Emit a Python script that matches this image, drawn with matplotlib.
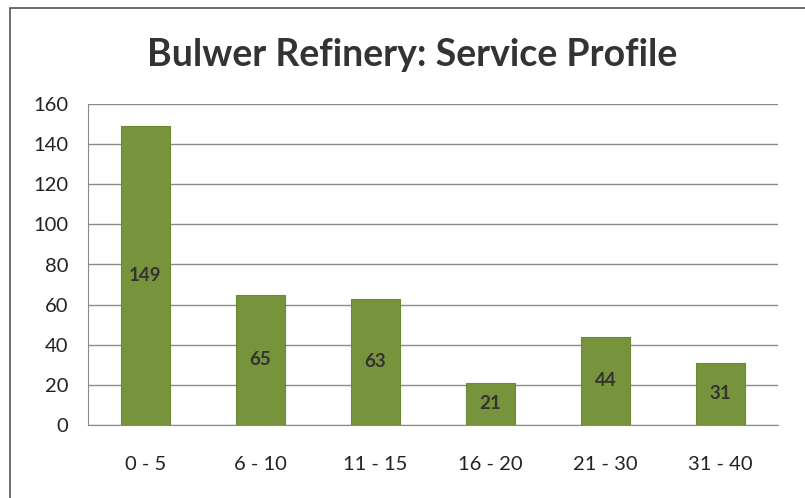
import matplotlib.pyplot as plt
from matplotlib.patches import Rectangle

categories = ['0 - 5', '6 - 10', '11 - 15', '16 - 20', '21 - 30', '31 - 40']
values = [149, 65, 63, 21, 44, 31]

fig = plt.figure(figsize=(8.05, 4.98), dpi=100)
# chart border (right/bottom edges fall outside the scan)
fig.patches.append(Rectangle((10 / 805, -0.05), 1.0, 1 - 8 / 498 + 0.05,
                             transform=fig.transFigure, fill=False,
                             edgecolor='#555555', linewidth=1.2))

ax = fig.add_axes([88 / 805, 73 / 498, 690 / 805, 321 / 498])
x = range(len(categories))
bars = ax.bar(x, values, width=0.42, color='#77933c', edgecolor='#6a8a34', linewidth=0.8, zorder=3)

for b, v in zip(bars, values):
    ax.text(b.get_x() + b.get_width() / 2, v / 2, str(v), ha='center', va='center',
            fontsize=13.5, fontweight='bold', color='#333333', family='Lato', zorder=4)

ax.set_xlim(-0.5, len(categories) - 0.5)
ax.set_ylim(0, 160)
ax.set_yticks(range(0, 161, 20))
ax.set_xticks(list(x))
ax.set_xticklabels(categories)
ax.yaxis.grid(True, color='#8a8a8a', linewidth=1.0, zorder=0)
ax.tick_params(axis='both', length=0, labelsize=14.5, colors='#222222')
for lbl in ax.get_xticklabels() + ax.get_yticklabels():
    lbl.set_family('Lato')
ax.tick_params(axis='y', pad=14)
ax.tick_params(axis='x', pad=22)
for s in ['top', 'right']:
    ax.spines[s].set_visible(False)
ax.spines['left'].set_color('#8a8a8a')
ax.spines['bottom'].set_color('#8a8a8a')

fig.text(412 / 805, 1 - 55 / 498, 'Bulwer Refinery: Service Profile', ha='center', va='center',
         fontsize=27, fontweight='bold', color='#333333', family='Lato')

fig.savefig('out.png', dpi=100)
